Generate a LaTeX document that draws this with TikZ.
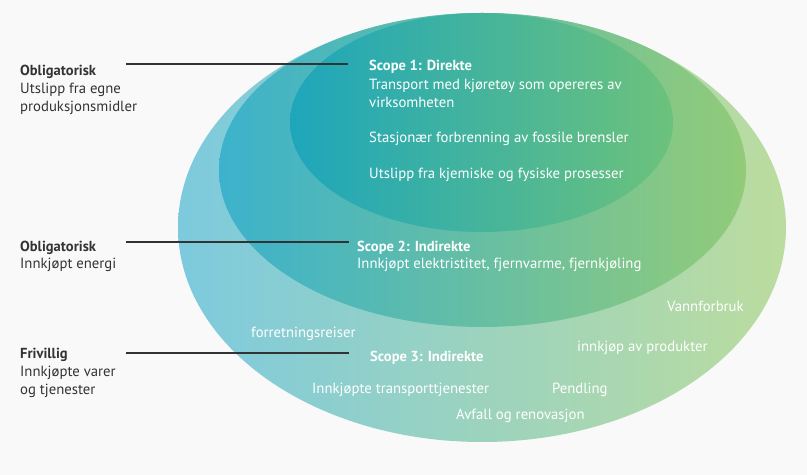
\documentclass[tikz,border=0pt]{standalone}
\usepackage{fontspec}
\setmainfont{PT Sans}
\usetikzlibrary{calc}

\definecolor{bggray}{HTML}{F9F9F9}
\definecolor{textgray}{HTML}{333333}
\definecolor{outerL}{HTML}{7DCADE}
\definecolor{outerM}{HTML}{79CEBF}
\definecolor{outerR}{HTML}{BBDC9E}
\definecolor{midL}{HTML}{3CB2CC}
\definecolor{midM}{HTML}{3BB9A8}
\definecolor{midR}{HTML}{92CB79}
\definecolor{innerL}{HTML}{1EA6BC}
\definecolor{innerM}{HTML}{22AEA0}
\definecolor{innerR}{HTML}{6CC27B}

\begin{document}
\begin{tikzpicture}[x=1bp, y=-1bp,
    sidetext/.style={anchor=base west, inner sep=0pt, text=textgray, font=\fontsize{14.8}{17}\selectfont},
    sidehead/.style={sidetext, font=\fontsize{14.6}{17}\selectfont\bfseries},
    intext/.style={anchor=base west, inner sep=0pt, text=white, font=\fontsize{14.8}{17}\selectfont},
    inhead/.style={intext, font=\fontsize{14.6}{17}\selectfont\bfseries},
    leader/.style={draw=textgray, line width=1.1bp}]

    % Draw the background
    \fill[bggray] (0,0) rectangle (807,475);

    % Draw the ellipses
    \shade[left color=outerL, middle color=outerM, right color=outerR]
        (482,227.5) ellipse [x radius=304, y radius=214.5];
    \shade[left color=midL, middle color=midM, right color=midR]
        (482.5,170) ellipse [x radius=263.5, y radius=157];
    \shade[left color=innerL, middle color=innerM, right color=innerR]
        (481.5,122.5) ellipse [x radius=191.5, y radius=109.5];

    % Scope 1 texts
    \node[inhead] (scope1) at (369,70.5) {Scope 1: Direkte};
    \node[intext] (transport) at (369,89.5) {Transport med kjøretøy som opereres av};
    \node[intext] (virksomhet) at (369,107.5) {virksomheten};
    \node[intext] (stasjonaer) at (369,142.5) {Stasjonær forbrenning av fossile brensler};
    \node[intext] (prosesser) at (369,178.5) {Utslipp fra kjemiske og fysiske prosesser};

    % Scope 2 texts
    \node[inhead] (scope2) at (357,251.5) {Scope 2: Indirekte};
    \node[intext] (energi) at (357,268.5) {Innkjøpt elektristitet, fjernvarme, fjernkjøling};

    % Scope 3 texts
    \node[intext] (vann) at (667,311.5) {Vannforbruk};
    \node[intext] (reiser) at (251,337.5) {forretningsreiser};
    \node[intext] (produkter) at (577,351.5) {innkjøp av produkter};
    \node[inhead] (scope3) at (370,361.5) {Scope 3: Indirekte};
    \node[intext] (transporttj) at (312,393.5) {Innkjøpte transporttjenester};
    \node[intext] (pendling) at (552,393.5) {Pendling};
    \node[intext] (avfall) at (456,419.5) {Avfall og renovasjon};

    % Side labels
    \node[sidehead] (oblig1) at (20,75.5) {Obligatorisk};
    \node[sidetext] (egne) at (20,93.5) {Utslipp fra egne};
    \node[sidetext] (midler) at (20,111.5) {produksjonsmidler};
    \node[sidehead] (oblig2) at (20,251.5) {Obligatorisk};
    \node[sidetext] (innkjopt) at (20,268.5) {Innkjøpt energi};
    \node[sidehead] (frivillig) at (20,358.5) {Frivillig};
    \node[sidetext] (varer) at (20,376.5) {Innkjøpte varer};
    \node[sidetext] (tjenester) at (20,394.5) {og tjenester};

    % Leader lines
    \coordinate (lead1) at (126,64);
    \coordinate (lead2) at (126,242);
    \coordinate (lead3) at (126,353);
    \draw[leader] (lead1) -- ([xshift=-21bp]lead1 -| scope1.west);
    \draw[leader] (lead2) -- ([xshift=-8bp]lead2 -| scope2.west);
    \draw[leader] (lead3) -- ([xshift=-21bp]lead3 -| scope3.west);

\end{tikzpicture}
\end{document}
